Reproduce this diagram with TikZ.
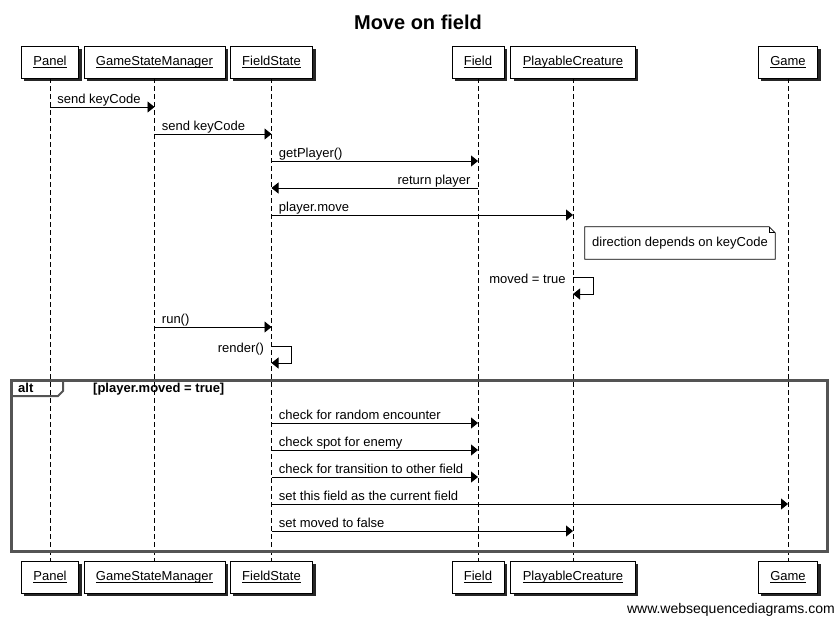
\documentclass[tikz,border=0pt]{standalone}
\usepackage{amsmath}
\usepackage{fontspec}
\setmainfont{Liberation Sans}
\usetikzlibrary{arrows.meta,calc,positioning,shadows}
\newcommand{\callmsg}[4]{%
  \draw[msg] (#1 |- 0,#3) -- node[pos=0,msgtext,anchor=base west,xshift=7pt,yshift=4pt] {#4} (#2 |- 0,#3);}
\newcommand{\retmsg}[4]{%
  \draw[msg] (#1 |- 0,#3) -- node[pos=0,msgtext,anchor=base east,xshift=-7pt,yshift=4pt] {#4} (#2 |- 0,#3);}
\newcommand{\selfmsg}[3]{%
  \draw[msg] (#1 |- 0,#2) -- node[pos=0,msgtext,anchor=base east,xshift=-7pt,yshift=-6pt] {#3} ++(20,0) -- ++(0,17) -- ++(-20,0);}

\begin{document}
\begin{tikzpicture}[x=1pt,y=-1pt,font=\fontsize{13}{15}\selectfont,
  actor/.style={draw,fill=white,line width=.8pt,minimum height=32pt,inner xsep=12pt,
    drop shadow={shadow xshift=3pt,shadow yshift=-3pt,fill=black!85,opacity=1}},
  lifeline/.style={dash pattern=on 5pt off 3pt,line width=.8pt},
  msg/.style={line width=.9pt,-{Triangle[length=7pt,width=11pt]}},
  msgtext/.style={inner sep=0pt},
  frame/.style={draw=black!67,line width=3pt}]
  \useasboundingbox (0,0) rectangle (835,618);
  % title
  \node[font=\fontsize{20}{24}\selectfont\bfseries] (title) at (418,22) {Move on field};
  % draw participants and lifelines
  \foreach \n/\x/\t in {panel/50/Panel,gsm/154.5/GameStateManager,fstate/271.5/FieldState,
                        field/478/Field,creature/573/PlayableCreature,game/788/Game} {
    \node[actor] (\n) at (\x,62) {\underline{\smash[b]{\t}}};
    \node[actor] (\n-end) at (\x,577) {\underline{\smash[b]{\t}}};
    \draw[lifeline] (\n.south) -- (\n-end.north);
  }
  % draw messages
  \callmsg{panel}{gsm}{107}{send keyCode}
  \callmsg{gsm}{fstate}{134}{send keyCode}
  \callmsg{fstate}{field}{161}{getPlayer()}
  \retmsg{field}{fstate}{188}{return player}
  \callmsg{fstate}{creature}{215}{player.move}
  % note
  \node[minimum width=190pt,minimum height=32pt,inner sep=0pt] (note) at (680,243) {direction depends on keyCode};
  \draw[line width=.8pt] (note.south west) -- (note.north west) -- ([xshift=-6pt]note.north east)
    -- ([yshift=-6pt]note.north east) -- (note.south east) -- cycle;
  \draw[line width=.8pt] ([xshift=-6pt]note.north east) -- ([xshift=-6pt,yshift=-6pt]note.north east)
    -- ([yshift=-6pt]note.north east);
  \selfmsg{creature}{277}{moved = true}
  \callmsg{gsm}{fstate}{327}{run()}
  \selfmsg{fstate}{346}{render()}
  % draw alt frame
  \draw[frame] (11,380) rectangle (827,551);
  \draw[draw=black!67,line width=2pt] (11,396) -- (58,396) -- (63,391) -- (63,380);
  \node[font=\fontsize{13}{15}\selectfont\bfseries,anchor=base west,inner sep=0pt] (alt) at (18,392) {alt};
  \node[font=\fontsize{13}{15}\selectfont\bfseries,anchor=base west,inner sep=0pt] (cond) at (93,392) {[player.moved = true]};
  \callmsg{fstate}{field}{423}{check for random encounter}
  \callmsg{fstate}{field}{450}{check spot for enemy}
  \callmsg{fstate}{field}{477}{check for transition to other field}
  \callmsg{fstate}{game}{504}{set this field as the current field}
  \callmsg{fstate}{creature}{531}{set moved to false}
  % credit
  \node[font=\fontsize{14}{16}\selectfont,anchor=east,inner sep=0pt] (credit) at (835,610) {www.websequencediagrams.com};
\end{tikzpicture}
\end{document}
